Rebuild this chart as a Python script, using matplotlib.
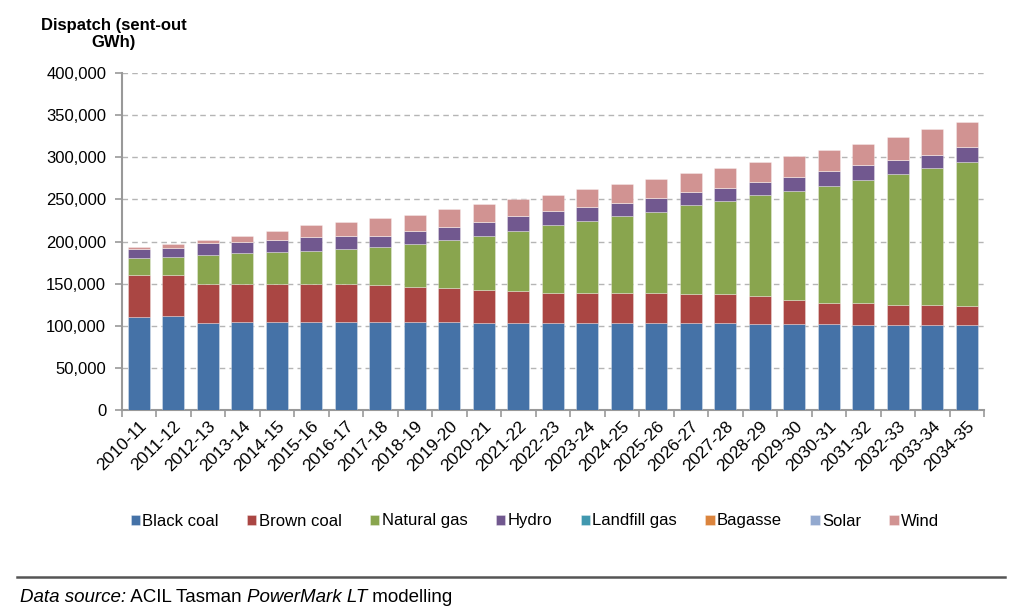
import matplotlib
matplotlib.use("Agg")
import matplotlib.pyplot as plt
import numpy as np

plt.rcParams['font.family'] = ['Liberation Sans', 'DejaVu Sans']

years = ["2010-11", "2011-12", "2012-13", "2013-14", "2014-15", "2015-16", "2016-17",
         "2017-18", "2018-19", "2019-20", "2020-21", "2021-22", "2022-23", "2023-24",
         "2024-25", "2025-26", "2026-27", "2027-28", "2028-29", "2029-30", "2030-31",
         "2031-32", "2032-33", "2033-34", "2034-35"]

black_coal = [110700, 111000, 103600, 104000, 104000, 104000, 104000, 104000, 104000, 104000,
              103600, 103600, 103600, 103600, 103600, 103600, 103600, 103600, 102000, 102000,
              102000, 100500, 100500, 100500, 100500]
brown_coal = [49500, 49000, 46400, 46000, 46000, 46000, 46000, 44000, 42000, 40400,
              39200, 37300, 35700, 35700, 35700, 35700, 34100, 34100, 33300, 28600,
              25000, 26500, 24500, 24500, 22900]
natural_gas = [19800, 22000, 34000, 36000, 38000, 39000, 41000, 45000, 50600, 57400,
               64200, 71600, 80300, 85400, 90600, 96100, 105300, 110300, 119500, 129700,
               138900, 146000, 155000, 162200, 171000]
hydro = [11000, 10000, 13800, 13800, 13400, 16000, 16000, 14000, 15400, 15800,
         16000, 17400, 16200, 15800, 16100, 16200, 15800, 15900, 16200, 15900,
         17800, 17400, 17000, 15500, 17400]
landfill_gas = [0] * 25
bagasse = [0] * 25
solar = [0] * 25
wind = [2000, 4600, 4000, 7100, 11100, 14600, 16000, 21000, 20000, 21000,
        21500, 20100, 19000, 21800, 21900, 22900, 22900, 23300, 23400, 24800,
        24900, 25300, 27400, 30400, 30400]

series_names = ["Black coal", "Brown coal", "Natural gas", "Hydro", "Landfill gas",
                "Bagasse", "Solar", "Wind"]
series_values = [black_coal, brown_coal, natural_gas, hydro, landfill_gas, bagasse, solar, wind]
colors = ["#4572A7", "#AA4643", "#89A54E", "#71588F", "#4198AF", "#DB843D", "#93A9CF", "#D19392"]

fig = plt.figure(figsize=(10.24, 6.10), dpi=100)
ax = fig.add_axes([121.5 / 1024, 1 - 410 / 610, (984 - 121.5) / 1024, (410 - 73) / 610])

x = np.arange(len(years))
bottom = np.zeros(len(years))
handles = []
for name, vals, col in zip(series_names, series_values, colors):
    v = np.array(vals, dtype=float)
    b = ax.bar(x, v, 0.64, bottom=bottom, color=col, edgecolor=(1, 1, 1, 0.35),
               linewidth=0.6, label=name, zorder=3)
    handles.append(b)
    bottom += v

ax.set_xlim(-0.5, len(years) - 0.5)
ax.set_ylim(0, 400000)
ax.set_yticks(np.arange(0, 400001, 50000))
ax.set_yticklabels([f"{int(t):,}" for t in np.arange(0, 400001, 50000)], fontsize=12)
ax.yaxis.grid(True, linestyle=(0, (4, 3)), color="#b5b5b5", linewidth=1.0, zorder=0)
ax.set_axisbelow(True)

ax.set_xticks(x)
ax.set_xticklabels(years, rotation=45, ha="right", rotation_mode="anchor", fontsize=12.5)
ax.tick_params(axis="x", which="major", length=0, pad=6)
ax.set_xticks(np.arange(-0.5, len(years), 1.0), minor=True)
ax.tick_params(axis="x", which="minor", length=5, color="#999999", width=1.2)
ax.tick_params(axis="y", length=5, color="#999999", width=1.2, pad=6)

for s in ["top", "right"]:
    ax.spines[s].set_visible(False)
for s in ["left", "bottom"]:
    ax.spines[s].set_color("#999999")
    ax.spines[s].set_linewidth(1.5)

fig.text(114 / 1024, 1 - 34 / 610, "Dispatch (sent-out\nGWh)", ha="center", va="center",
         fontsize=12, fontweight="bold", linespacing=1.15)

fig.legend(handles=handles, labels=series_names, loc="center", ncol=8,
           bbox_to_anchor=(535 / 1024, 1 - 521 / 610), frameon=False, fontsize=12,
           handlelength=0.55, handleheight=0.55, handletextpad=0.15, columnspacing=1.7)

fig.add_artist(plt.Line2D([17 / 1024, 1005 / 1024], [1 - 577 / 610, 1 - 577 / 610],
                          transform=fig.transFigure, color="#555555", linewidth=1.8))

# footer text with mixed styles
parts = [("Data source:", "italic"), (" ACIL Tasman ", "normal"),
         ("PowerMark LT", "italic"), (" modelling", "normal")]
fig.canvas.draw()
renderer = fig.canvas.get_renderer()
xpos = 20 / 1024
ypos = 1 - 597 / 610
for txt, style in parts:
    t = fig.text(xpos, ypos, txt, fontsize=13.5, style=style, ha="left", va="center")
    bb = t.get_window_extent(renderer=renderer)
    xpos += bb.width / fig.bbox.width

fig.savefig("out.png", dpi=100)
